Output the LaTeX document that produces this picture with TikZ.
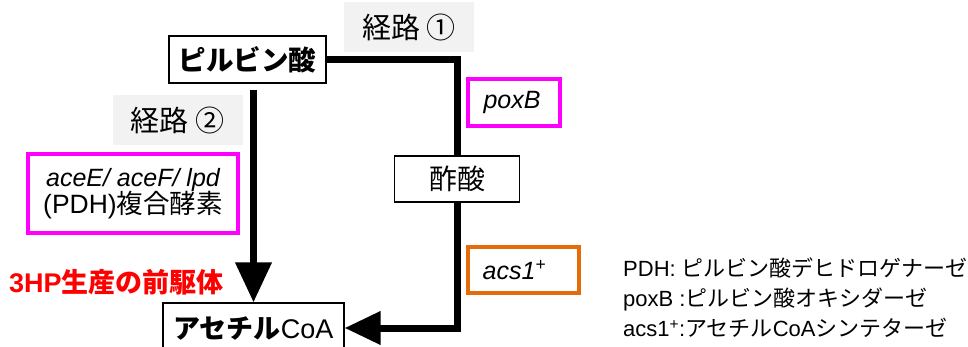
\documentclass[tikz,border=0pt]{standalone}
\usepackage{fontspec}
\setmainfont{Noto Sans CJK JP}
\newfontfamily\latin{Liberation Sans}
\usetikzlibrary{arrows.meta, positioning, calc}
\definecolor{routegray}{HTML}{F2F2F2}
\definecolor{genemagenta}{HTML}{FF00FF}
\definecolor{geneorange}{HTML}{E46C0A}
\newcommand{\gene}[1]{{\latin\itshape #1}}
\newcommand{\fsz}[1]{\fontsize{#1}{1.2\dimexpr#1pt\relax}\selectfont}
\tikzset{
    pathway/.style={x=1pt, y=-1pt, font=\fsz{25}},
    compound/.style={draw, line width=1.2pt, inner sep=0pt},
    routelabel/.style={fill=routegray, minimum width=130pt, minimum height=50pt, inner sep=0pt, font=\fsz{29}},
    enzyme/.style={draw=genemagenta, line width=3.5pt, inner sep=0pt, align=center},
    flow/.style={line width=7pt},
    bigtip/.style={-{Triangle[length=40pt, width=35pt]}},
    sidetip/.style={-{Triangle[length=36pt, width=32pt]}},
}

\begin{document}
\begin{tikzpicture}[pathway]
    \useasboundingbox (0,0) rectangle (968,347);

    \node[routelabel] (route1) at (409,27) {経路 ①};
    \node[compound, minimum width=157pt, minimum height=47pt, font=\fsz{27.5}\bfseries] (pyr) at (247.5,59.5) {ピルビン酸};
    \node[routelabel] (route2) at (177.5,120) {経路 ②};
    \node[enzyme, minimum width=210pt, minimum height=79pt, font=\fsz{25}] (pdh) at (133,193.5)
        {\gene{aceE/ aceF/ lpd}\\[-3pt]{\fsz{26.5}{\latin (PDH)}複合酵素}};
    \node[anchor=west, text=red, font=\fsz{27}\bfseries, inner sep=0pt] (precursor) at (9,282) {{\latin 3HP}生産の前駆体};
    \node[enzyme, minimum width=92pt, minimum height=47pt] (poxb) at (514,102.5) {\gene{poxB}\hspace*{4pt}};
    \node[compound, minimum width=125pt, minimum height=46pt, font=\fsz{28}] (acetate) at (457,179) {酢酸};
    \node[enzyme, draw=geneorange, minimum width=111pt, minimum height=46pt] (acs) at (523.5,270)
        {\gene{acs1}{\latin\textsuperscript{+}}\hspace*{18pt}};
    \node[compound, minimum width=181pt, minimum height=50pt, font=\fsz{27}] (acoa) at (253.5,328)
        {\textbf{アセチル}{\latin CoA}};
    % abbreviations
    \node[anchor=west, align=left, inner sep=0pt, font=\fontsize{22}{30}\selectfont] (legend) at (623,298)
        {{\latin PDH: }ピルビン酸デヒドロゲナーゼ\\
         {\latin poxB :}ピルビン酸オキシダーゼ\\
         {\latin acs1\textsuperscript{+}:}アセチル{\latin CoA}シンテターゼ};

    \draw[flow, bigtip] ([yshift=-6pt]pyr.south -| acoa.north) -- (acoa.north);
    \draw[flow] (pyr.east) -- (pyr.east -| acetate.north) -- (acetate.north);
    \draw[flow, sidetip] (acetate.south) |- (acoa.east);
\end{tikzpicture}
\end{document}
